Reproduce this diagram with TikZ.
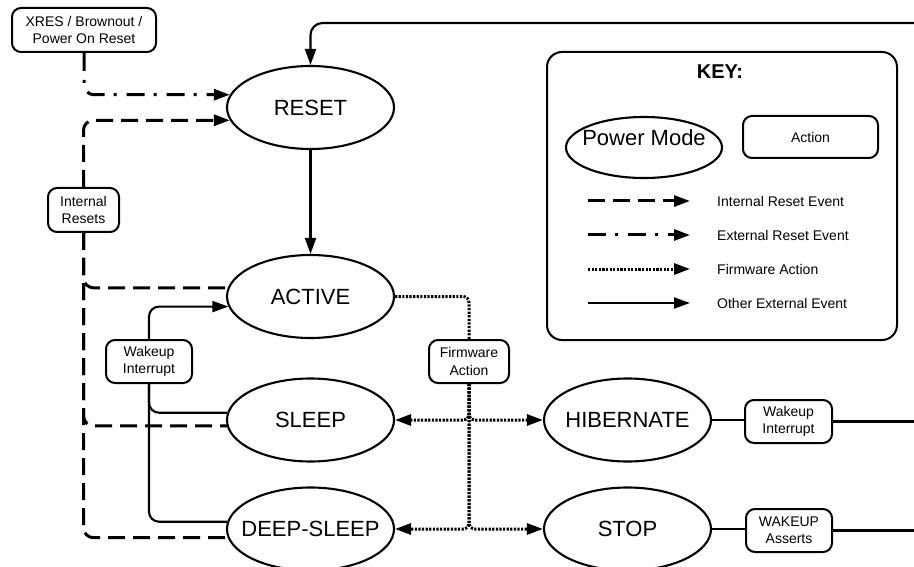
\documentclass[tikz,border=0pt]{standalone}
\usepackage{fontspec}
\setmainfont{Liberation Sans}
\usetikzlibrary{arrows.meta,shapes.geometric}
\begin{document}
\begin{tikzpicture}[x=1pt,y=-1pt,
  mode/.style={ellipse,draw,line width=2.1pt,minimum width=167pt,minimum height=83pt,inner sep=0pt,font=\fontsize{22}{26}\selectfont},
  act/.style={draw,line width=2pt,rounded corners=9pt,inner sep=0pt,align=center,font=\fontsize{14}{17.5}\selectfont},
  tip/.style={-{Triangle[length=16pt,width=11pt]}},
  solidc/.style={line width=2.1pt},
  dashc/.style={line width=3pt,dash pattern=on 17pt off 8pt},
  dashdotc/.style={line width=3pt,dash pattern=on 18pt off 9pt on 3pt off 10pt},
  dotc/.style={line width=3pt,dash pattern=on 2.2pt off 1.4pt},
  keytext/.style={anchor=west,inner sep=0pt,font=\fontsize{14}{17}\selectfont},
]
\useasboundingbox (0,0) rectangle (914,567);

% power modes
\node[mode] (reset) at (310.5,107.5) {\makebox[0pt]{RESET}};
\node[mode] (active) at (310.5,296.5) {\makebox[0pt]{ACTIVE}};
\node[mode] (sleep) at (310.5,420) {\makebox[0pt]{SLEEP}};
\node[mode] (deep) at (310.5,529) {\makebox[0pt]{DEEP-SLEEP}};
\node[mode] (hib) at (627.5,420) {\makebox[0pt]{HIBERNATE}};
\node[mode] (stop) at (627.5,529) {\makebox[0pt]{STOP}};

% actions
\node[act,minimum width=144pt,minimum height=44pt] (xres) at (84,30) {XRES / Brownout /\\Power On Reset};
\node[act,minimum width=71pt,minimum height=44pt] (intres) at (83.5,210) {Internal\\Resets};
\node[act,minimum width=86pt,minimum height=43pt] (wakel) at (149,361.5) {Wakeup\\Interrupt};
\node[act,minimum width=80pt,minimum height=43pt] (fw) at (469,361.5) {Firmware\\Action};
\node[act,minimum width=87pt,minimum height=43pt] (waker) at (788.5,421.5) {Wakeup\\Interrupt};
\node[act,minimum width=86pt,minimum height=43pt] (wakeup) at (789,530.5) {WAKEUP\\Asserts};

% key
\node[draw,line width=2pt,rounded corners=15pt,minimum width=350pt,minimum height=288pt,inner sep=0pt] (keybox) at (722,196) {};
\node[font=\bfseries\fontsize{20}{24}\selectfont] (keyt) at (720,72) {KEY:};
\node[mode,minimum width=156pt,minimum height=61pt] (pm) at (644,147.5) {};
\node[font=\fontsize{22}{26}\selectfont,inner sep=0pt] (pmt) at (644,138) {Power Mode};
\node[act,minimum width=135pt,minimum height=42pt] (actk) at (810.5,137) {Action};

\coordinate (l1a) at (588,201); \coordinate (l1b) at (690,201);
\coordinate (l2a) at (588,235); \coordinate (l2b) at (690,235);
\coordinate (l3a) at (588,269); \coordinate (l3b) at (690,269);
\coordinate (l4a) at (588,303); \coordinate (l4b) at (690,303);
\draw[dashc,tip] (l1a) -- (l1b);
\draw[dashdotc,tip] (l2a) -- (l2b);
\draw[dotc,tip] (l3a) -- (l3b);
\draw[solidc,tip] (l4a) -- (l4b);
\node[keytext] (l1t) at (717,201) {Internal Reset Event};
\node[keytext] (l2t) at (717,235) {External Reset Event};
\node[keytext] (l3t) at (717,269) {Firmware Action};
\node[keytext] (l4t) at (717,303) {Other External Event};

% connectors
\coordinate (topin) at (914,23);
\draw[solidc,tip,rounded corners=12pt] (topin) -| (reset.north);
\draw[solidc,tip] (reset.south) -- (active.north);
\draw[dashdotc,tip,rounded corners=10pt] (xres.south) |- (reset.171);
\draw[dashc,tip,rounded corners=10pt] (intres.north) |- (reset.189);
\draw[dashc,rounded corners=10pt] (intres.south) |- (active.174);
\draw[dashc,rounded corners=10pt] (intres.south) |- (sleep.184);
\draw[dashc,rounded corners=10pt] (intres.south) |- (deep.186);

\draw[solidc,tip,rounded corners=10pt] (wakel.north) |- (active.187);
\draw[solidc,rounded corners=10pt] (wakel.south) |- (sleep.175);
\draw[solidc,rounded corners=10pt] (wakel.south) |- (deep.175);

\draw[dotc,rounded corners=6pt] (fw.north) |- (active.east);
\draw[dotc,tip,rounded corners=6pt] (fw.south) |- (sleep.east);
\draw[dotc,tip,rounded corners=6pt] (fw.south) |- (hib.west);
\draw[dotc,tip,rounded corners=6pt] (fw.south) |- (deep.east);
\draw[dotc,tip,rounded corners=6pt] (fw.south) |- (stop.west);

\coordinate (hibout) at (914,421.5);
\coordinate (stopout) at (914,530.5);
\draw[solidc] (hib.east) -- (hib.east -| waker.west);
\draw[solidc] (waker.east) -- (hibout);
\draw[solidc] (stop.east) -- (stop.east -| wakeup.west);
\draw[solidc] (wakeup.east) -- (stopout);
\end{tikzpicture}
\end{document}
